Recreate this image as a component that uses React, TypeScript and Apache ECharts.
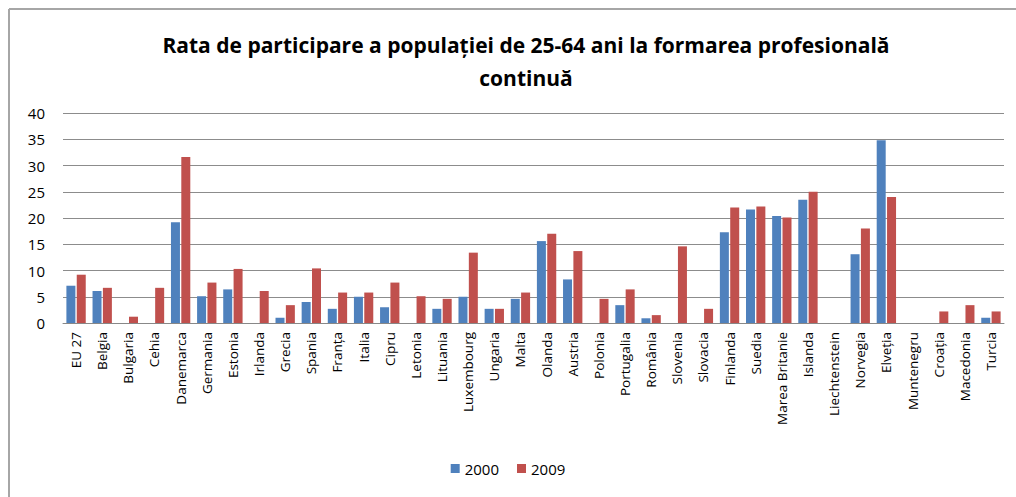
import React, { useEffect, useRef } from "react";
import * as echarts from "echarts";

const categories = [
  "EU 27", "Belgia", "Bulgaria", "Cehia", "Danemarca", "Germania", "Estonia", "Irlanda",
  "Grecia", "Spania", "Franța", "Italia", "Cipru", "Letonia", "Lituania", "Luxembourg",
  "Ungaria", "Malta", "Olanda", "Austria", "Polonia", "Portugalia", "România", "Slovenia",
  "Slovacia", "Finlanda", "Suedia", "Marea Britanie", "Islanda", "Liechtenstein", "Norvegia",
  "Elveția", "Muntenegru", "Croația", "Macedonia", "Turcia",
];

const values2000 = [
  7.1, 6.1, null, null, 19.2, 5.1, 6.4, null,
  1.0, 4.0, 2.7, 5.0, 3.0, null, 2.7, 5.0,
  2.7, 4.6, 15.6, 8.3, null, 3.4, 0.9, null,
  null, 17.3, 21.6, 20.4, 23.5, null, 13.1,
  34.8, null, null, null, 1.0,
];

const values2009 = [
  9.2, 6.7, 1.2, 6.7, 31.6, 7.7, 10.3, 6.1,
  3.4, 10.4, 5.8, 5.8, 7.7, 5.1, 4.6, 13.4,
  2.7, 5.8, 17.0, 13.7, 4.6, 6.4, 1.5, 14.6,
  2.7, 22.0, 22.2, 20.1, 25.0, null, 18.0,
  24.0, null, 2.2, 3.4, 2.2,
];

const seriesNames = ["2000", "2009"];
const yTicks = { min: 0, max: 40, interval: 5 };
const titleText = "Rata de participare a populației de 25-64 ani la formarea profesională\ncontinuă";

export default function App() {
  const ref = useRef<HTMLDivElement>(null);
  useEffect(() => {
    if (!ref.current) return;
    const chart = echarts.init(ref.current, undefined, { renderer: "svg" });
    const font = "'Open Sans', sans-serif";
    chart.setOption({
      animation: false,
      backgroundColor: "#ffffff",
      title: {
        text: titleText,
        left: 521,
        top: 23,
        textAlign: "center",
        textStyle: {
          fontFamily: font,
          fontWeight: "bold",
          fontSize: 21,
          lineHeight: 33,
          color: "#000",
        },
      },
      legend: {
        data: seriesNames,
        bottom: 16,
        left: "center",
        itemWidth: 9,
        itemHeight: 9,
        itemGap: 18,
        icon: "rect",
        textStyle: { fontFamily: font, fontSize: 15, color: "#000" },
      },
      graphic: [
        { type: "line", shape: { x1: 9, y1: 9, x2: 1016, y2: 9 }, style: { stroke: "#a6a6a6", lineWidth: 2 } },
        { type: "line", shape: { x1: 9, y1: 9, x2: 9, y2: 497 }, style: { stroke: "#a6a6a6", lineWidth: 2 } },
      ],
      grid: { left: 63, right: 12, top: 113, bottom: 174, containLabel: false },
      xAxis: {
        type: "category",
        data: categories,
        axisLine: { lineStyle: { color: "#888", width: 1 } },
        axisTick: { show: false },
        axisLabel: {
          rotate: 90,
          interval: 0,
          margin: 9,
          fontFamily: font,
          fontSize: 13.5,
          color: "#000",
        },
      },
      yAxis: {
        type: "value",
        min: yTicks.min,
        max: yTicks.max,
        interval: yTicks.interval,
        axisLine: { show: false },
        axisTick: { show: false },
        splitLine: { lineStyle: { color: "#8c8c8c", width: 1 } },
        axisLabel: { fontFamily: font, fontSize: 15, color: "#000", margin: 18 },
      },
      series: [
        {
          name: seriesNames[0],
          type: "bar",
          data: values2000,
          barWidth: 9,
          barGap: "15%",
          itemStyle: { color: "#4f81bd" },
        },
        {
          name: seriesNames[1],
          type: "bar",
          data: values2009,
          barWidth: 9,
          itemStyle: { color: "#c0504d" },
        },
      ],
    });
    return () => chart.dispose();
  }, []);
  return (
    <div
      ref={ref}
      style={{ position: "fixed", left: 0, top: 0, width: 1016, height: 497, background: "#fff" }}
    />
  );
}
